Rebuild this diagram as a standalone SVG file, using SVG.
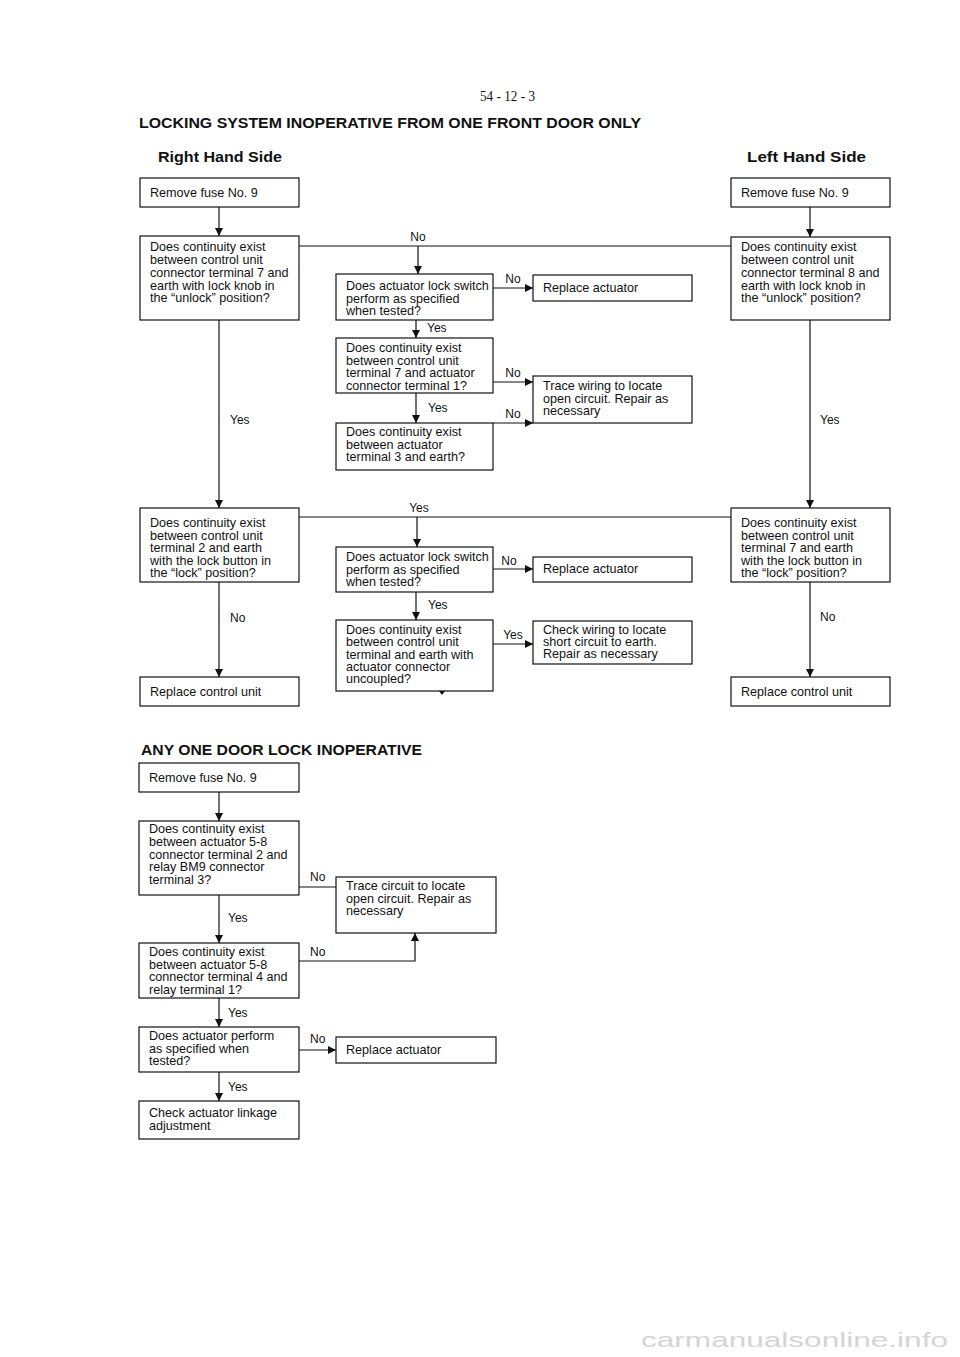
<svg xmlns="http://www.w3.org/2000/svg" width="960" height="1357" viewBox="0 0 960 1357">
<defs>
<marker id="ah" viewBox="0 0 10 10" refX="10" refY="5" markerWidth="9" markerHeight="8" markerUnits="userSpaceOnUse" orient="auto">
<path d="M0,0 L10,5 L0,10 z" fill="#111"/>
</marker>
<style>
.box{fill:#fff;stroke:#111;stroke-width:1.2}
.t{font-family:"Liberation Sans",Arial,sans-serif;font-size:12.6px;fill:#111}
.l{font-family:"Liberation Sans",Arial,sans-serif;font-size:12px;fill:#111}
.lc{font-family:"Liberation Sans",Arial,sans-serif;font-size:12px;fill:#111;text-anchor:middle}
.h{font-family:"Liberation Sans",Arial,sans-serif;font-weight:bold;fill:#111}
.c{fill:none;stroke:#111;stroke-width:1.2}
.a{fill:none;stroke:#111;stroke-width:1.2;marker-end:url(#ah)}
</style>
</defs>
<rect width="960" height="1357" fill="#fff"/>

<text x="480" y="101" font-family="Liberation Serif,serif" font-size="14" fill="#111" textLength="55" lengthAdjust="spacingAndGlyphs">54 - 12 - 3</text>
<text class="h" x="139" y="128" font-size="14" textLength="502" lengthAdjust="spacingAndGlyphs">LOCKING SYSTEM INOPERATIVE FROM ONE FRONT DOOR ONLY</text>
<text class="h" x="158" y="162" font-size="15" textLength="124" lengthAdjust="spacingAndGlyphs">Right Hand Side</text>
<text class="h" x="747" y="162" font-size="15" textLength="119" lengthAdjust="spacingAndGlyphs">Left Hand Side</text>

<g id="connectors">
<line class="a" x1="219" y1="207" x2="219" y2="236"/>
<line class="a" x1="219" y1="320" x2="219" y2="508"/>
<line class="a" x1="219" y1="582" x2="219" y2="677"/>
<line class="c" x1="299" y1="246" x2="731" y2="246"/>
<line class="a" x1="418" y1="246" x2="418" y2="274"/>
<line class="a" x1="493" y1="288" x2="533" y2="288"/>
<line class="a" x1="416" y1="320" x2="416" y2="338"/>
<line class="a" x1="493" y1="382" x2="533" y2="382"/>
<line class="a" x1="416" y1="393" x2="416" y2="423"/>
<line class="a" x1="493" y1="423" x2="533" y2="423"/>
<line class="a" x1="810" y1="207" x2="810" y2="237"/>
<line class="a" x1="810" y1="320" x2="810" y2="508"/>
<line class="a" x1="810" y1="582" x2="810" y2="677"/>
<line class="c" x1="299" y1="517" x2="731" y2="517"/>
<line class="a" x1="417" y1="517" x2="417" y2="547"/>
<line class="a" x1="493" y1="569" x2="533" y2="569"/>
<line class="a" x1="416" y1="592" x2="416" y2="620"/>
<line class="a" x1="493" y1="644" x2="533" y2="644"/>
<path d="M442,687 L445,691 L442,695 L439,691 z" fill="#111"/>
<line class="a" x1="219" y1="792" x2="219" y2="821"/>
<line class="c" x1="299" y1="887" x2="336" y2="887"/>
<line class="a" x1="219" y1="895" x2="219" y2="943"/>
<polyline class="a" points="299,961 415,961 415,933"/>
<line class="a" x1="219" y1="998" x2="219" y2="1027"/>
<line class="a" x1="299" y1="1050" x2="336" y2="1050"/>
<line class="a" x1="219" y1="1072" x2="219" y2="1101"/>
</g>

<g id="labels">
<text class="lc" x="418" y="241">No</text>
<text class="lc" x="513" y="283">No</text>
<text class="l" x="427" y="332">Yes</text>
<text class="lc" x="513" y="377">No</text>
<text class="l" x="428" y="412">Yes</text>
<text class="lc" x="513" y="418">No</text>
<text class="l" x="230" y="424">Yes</text>
<text class="l" x="820" y="424">Yes</text>
<text class="lc" x="419" y="512">Yes</text>
<text class="lc" x="509" y="565">No</text>
<text class="l" x="428" y="609">Yes</text>
<text class="lc" x="513" y="639">Yes</text>
<text class="l" x="230" y="622">No</text>
<text class="l" x="820" y="621">No</text>
<text class="l" x="310" y="881">No</text>
<text class="l" x="228" y="922">Yes</text>
<text class="l" x="310" y="956">No</text>
<text class="l" x="228" y="1017">Yes</text>
<text class="l" x="310" y="1043">No</text>
<text class="l" x="228" y="1091">Yes</text>
</g>

<g id="r1"><rect class="box" x="140" y="178" width="159" height="29"/><text class="t" x="150" y="197">Remove fuse No. 9</text></g>
<g id="r2"><rect class="box" x="140" y="236" width="159" height="84"/>
<text class="t" x="150" y="251">Does continuity exist</text>
<text class="t" x="150" y="264">between control unit</text>
<text class="t" x="150" y="277">connector terminal 7 and</text>
<text class="t" x="150" y="290">earth with lock knob in</text>
<text class="t" x="150" y="302">the “unlock” position?</text></g>
<g id="r3"><rect class="box" x="140" y="508" width="159" height="74"/>
<text class="t" x="150" y="527">Does continuity exist</text>
<text class="t" x="150" y="539.5">between control unit</text>
<text class="t" x="150" y="552">terminal 2 and earth</text>
<text class="t" x="150" y="564.5">with the lock button in</text>
<text class="t" x="150" y="577">the “lock” position?</text></g>
<g id="r4"><rect class="box" x="140" y="677" width="159" height="29"/><text class="t" x="150" y="696">Replace control unit</text></g>

<g id="l1"><rect class="box" x="731" y="178" width="159" height="29"/><text class="t" x="741" y="197">Remove fuse No. 9</text></g>
<g id="l2"><rect class="box" x="731" y="237" width="159" height="83"/>
<text class="t" x="741" y="251">Does continuity exist</text>
<text class="t" x="741" y="264">between control unit</text>
<text class="t" x="741" y="277">connector terminal 8 and</text>
<text class="t" x="741" y="290">earth with lock knob in</text>
<text class="t" x="741" y="302">the “unlock” position?</text></g>
<g id="l3"><rect class="box" x="731" y="508" width="159" height="74"/>
<text class="t" x="741" y="527">Does continuity exist</text>
<text class="t" x="741" y="539.5">between control unit</text>
<text class="t" x="741" y="552">terminal 7 and earth</text>
<text class="t" x="741" y="564.5">with the lock button in</text>
<text class="t" x="741" y="577">the “lock” position?</text></g>
<g id="l4"><rect class="box" x="731" y="677" width="159" height="29"/><text class="t" x="741" y="696">Replace control unit</text></g>

<g id="m1"><rect class="box" x="336" y="274" width="157" height="46"/>
<text class="t" x="346" y="290">Does actuator lock switch</text>
<text class="t" x="346" y="302.5">perform as specified</text>
<text class="t" x="346" y="315">when tested?</text></g>
<g id="m1r"><rect class="box" x="533" y="275" width="159" height="26"/><text class="t" x="543" y="292">Replace actuator</text></g>
<g id="m2"><rect class="box" x="336" y="338" width="157" height="55"/>
<text class="t" x="346" y="352">Does continuity exist</text>
<text class="t" x="346" y="364.5">between control unit</text>
<text class="t" x="346" y="377">terminal 7 and actuator</text>
<text class="t" x="346" y="389.5">connector terminal 1?</text></g>
<g id="m2r"><rect class="box" x="533" y="376" width="159" height="47"/>
<text class="t" x="543" y="390">Trace wiring to locate</text>
<text class="t" x="543" y="402.5">open circuit. Repair as</text>
<text class="t" x="543" y="415">necessary</text></g>
<g id="m3"><rect class="box" x="336" y="423" width="157" height="47"/>
<text class="t" x="346" y="436">Does continuity exist</text>
<text class="t" x="346" y="448.5">between actuator</text>
<text class="t" x="346" y="461">terminal 3 and earth?</text></g>

<g id="n1"><rect class="box" x="336" y="547" width="157" height="45"/>
<text class="t" x="346" y="561">Does actuator lock switch</text>
<text class="t" x="346" y="573.5">perform as specified</text>
<text class="t" x="346" y="586">when tested?</text></g>
<g id="n1r"><rect class="box" x="533" y="557" width="159" height="25"/><text class="t" x="543" y="573">Replace actuator</text></g>
<g id="n2"><rect class="box" x="336" y="620" width="157" height="71"/>
<text class="t" x="346" y="634">Does continuity exist</text>
<text class="t" x="346" y="646">between control unit</text>
<text class="t" x="346" y="658.5">terminal and earth with</text>
<text class="t" x="346" y="671">actuator connector</text>
<text class="t" x="346" y="683">uncoupled?</text></g>
<g id="n2r"><rect class="box" x="533" y="621" width="159" height="43"/>
<text class="t" x="543" y="634">Check wiring to locate</text>
<text class="t" x="543" y="646">short circuit to earth.</text>
<text class="t" x="543" y="658">Repair as necessary</text></g>

<text class="h" x="141" y="755" font-size="14.5" textLength="281" lengthAdjust="spacingAndGlyphs">ANY ONE DOOR LOCK INOPERATIVE</text>

<g id="a1"><rect class="box" x="139" y="763" width="160" height="29"/><text class="t" x="149" y="782">Remove fuse No. 9</text></g>
<g id="a2"><rect class="box" x="139" y="821" width="160" height="74"/>
<text class="t" x="149" y="833">Does continuity exist</text>
<text class="t" x="149" y="846">between actuator 5-8</text>
<text class="t" x="149" y="858.5">connector terminal 2 and</text>
<text class="t" x="149" y="871">relay BM9 connector</text>
<text class="t" x="149" y="883.5">terminal 3?</text></g>
<g id="a2r"><rect class="box" x="336" y="877" width="160" height="56"/>
<text class="t" x="346" y="890">Trace circuit to locate</text>
<text class="t" x="346" y="902.5">open circuit. Repair as</text>
<text class="t" x="346" y="915">necessary</text></g>
<g id="a3"><rect class="box" x="139" y="943" width="160" height="55"/>
<text class="t" x="149" y="956">Does continuity exist</text>
<text class="t" x="149" y="968.5">between actuator 5-8</text>
<text class="t" x="149" y="981">connector terminal 4 and</text>
<text class="t" x="149" y="993.5">relay terminal 1?</text></g>
<g id="a4"><rect class="box" x="139" y="1027" width="160" height="45"/>
<text class="t" x="149" y="1040">Does actuator perform</text>
<text class="t" x="149" y="1052.5">as specified when</text>
<text class="t" x="149" y="1065">tested?</text></g>
<g id="a4r"><rect class="box" x="336" y="1037" width="160" height="26"/><text class="t" x="346" y="1054">Replace actuator</text></g>
<g id="a5"><rect class="box" x="139" y="1101" width="160" height="38"/>
<text class="t" x="149" y="1117">Check actuator linkage</text>
<text class="t" x="149" y="1130">adjustment</text></g>

<text x="641" y="1347" font-family="Liberation Sans,Arial,sans-serif" font-size="21" fill="#d4d4d4" textLength="307" lengthAdjust="spacingAndGlyphs">carmanualsonline.info</text>
</svg>
